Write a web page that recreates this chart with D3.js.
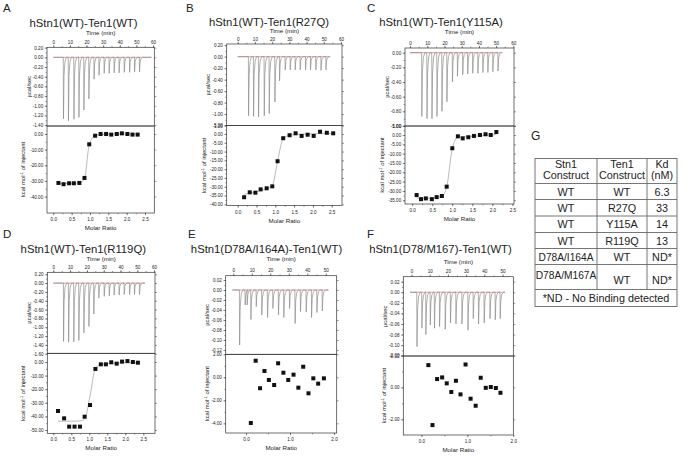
<!DOCTYPE html>
<html>
<head>
<meta charset="UTF-8">
<title>ITC panels</title>
<script src="https://d3js.org/d3.v7.min.js"></script>
<style>
  body { margin: 0; background: #fff; }
  svg text { font-family: "Liberation Sans", Arial, Helvetica, sans-serif; fill: #222; }
</style>
</head>
<body>
<svg width="686" height="456"></svg>
<script>
// ---------- data ----------
// injection times (min) and peak heights (ucal/sec) of the raw thermograms
const injTimeA = [6.0, 9.0, 12.3, 15.3, 18.3, 21.3, 24.4, 27.4, 30.5, 33.5, 36.5, 39.5, 42.6, 45.8, 48.8, 51.8];
const injPeakA = [-1.27, -1.31, -1.28, -1.24, -1.09, -0.86, -0.45, -0.37, -0.33, -0.33, -0.32, -0.32, -0.31, -0.31, -0.30, -0.30];
const injTimeB = [6.2, 9.1, 12.0, 15.3, 18.2, 21.5, 24.2, 27.5, 30.4, 33.3, 36.2, 39.3, 42.2, 45.3, 48.3, 51.2];
const injPeakB = [-1.03, -1.04, -1.05, -1.03, -0.99, -0.79, -0.42, -0.23, -0.23, -0.23, -0.23, -0.23, -0.23, -0.23, -0.24, -0.23];
const injTimeC = [6.7, 9.7, 12.6, 15.5, 18.4, 21.3, 24.5, 27.4, 30.5, 33.4, 36.3, 39.3, 42.2, 45.1, 48.0, 51.0];
const injPeakC = [-0.87, -0.90, -0.90, -0.87, -0.80, -0.67, -0.40, -0.32, -0.30, -0.29, -0.28, -0.28, -0.27, -0.27, -0.26, -0.25];
const injTimeD = [6.0, 9.0, 12.1, 15.1, 18.1, 21.1, 24.0, 27.0, 30.2, 33.2, 36.1, 39.1, 42.1, 45.3, 48.2, 51.2];
const injPeakD = [-1.32, -1.34, -1.33, -1.30, -1.13, -0.98, -0.70, -0.34, -0.30, -0.29, -0.27, -0.27, -0.26, -0.26, -0.26, -0.26];
const injTimeE = [3.3, 6.3, 7.4, 9.4, 12.3, 15.3, 18.4, 21.3, 24.3, 27.2, 30.3, 33.3, 36.2, 39.3, 42.2, 45.1, 48.0];
const injPeakE = [-0.11, -0.03, -0.03, -0.059, -0.033, -0.05, -0.055, -0.037, -0.05, -0.055, -0.037, -0.067, -0.043, -0.044, -0.055, -0.045, -0.042];
const injTimeF = [2.9, 5.6, 7.8, 10.2, 12.5, 15.3, 18.4, 21.3, 24.3, 27.6, 30.9, 33.8, 36.7, 39.8, 43.0, 45.9, 48.6];
const injPeakF = [-0.103, -0.068, -0.08, -0.062, -0.068, -0.065, -0.07, -0.058, -0.06, -0.06, -0.072, -0.05, -0.06, -0.058, -0.05, -0.052, -0.05];

// integrated heats: molar ratio vs kcal/mol of injectant, plus fitted curve
const ratioA = [0.14, 0.28, 0.43, 0.56, 0.71, 0.85, 0.98, 1.14, 1.29, 1.44, 1.58, 1.73, 1.87, 2.02, 2.16, 2.30];
const heatA  = [-31.3, -32.1, -31.5, -31.5, -31.3, -28.1, -6.6, -1.1, 0, 0, -0.4, 0, 0.4, 0, -0.4, -0.4];
const fitA   = [-31.6, -31.6, -31.6, -31.5, -31.2, -28.5, -6.8, -1.0, -0.3, -0.2, -0.1, 0, 0, 0, 0, 0];
const ratioB = [0.17, 0.32, 0.47, 0.61, 0.77, 0.92, 1.06, 1.21, 1.38, 1.54, 1.70, 1.86, 2.02, 2.19, 2.37, 2.54];
const heatB  = [-36.0, -33.2, -33.4, -31.5, -30.9, -29.8, -15.5, -2.4, -0.7, 0.4, -1.1, -0.4, -1.1, 1.3, 0.7, 0.4];
const fitB   = [-34.4, -33.7, -33.0, -32.2, -31.2, -29.5, -15.5, -2.6, -0.7, -0.3, -0.1, 0, 0.1, 0.2, 0.3, 0.3];
const ratioC = [0.11, 0.22, 0.34, 0.49, 0.61, 0.74, 0.86, 1.00, 1.14, 1.26, 1.40, 1.54, 1.69, 1.83, 1.96, 2.10];
const heatC  = [-32.2, -34.4, -34.0, -34.4, -33.3, -32.7, -27.7, -7.1, -0.7, -1.8, -1.2, -0.5, 0, 0.4, 0, 1.6];
const fitC   = [-33.8, -33.9, -33.9, -33.8, -33.6, -32.8, -27.9, -7.2, -1.2, -1.0, -0.8, -0.6, -0.4, -0.2, 0, 0.2];
const ratioD = [0.13, 0.30, 0.44, 0.59, 0.74, 0.87, 1.02, 1.17, 1.32, 1.46, 1.61, 1.76, 1.91, 2.06, 2.21, 2.35];
const heatD  = [-36.0, -41.4, -47.5, -47.5, -47.5, -40.2, -31.6, -5.1, -1.7, -1.7, -0.2, -1.2, 0.3, 0.7, 0, -0.5];
const fitD   = [-43.5, -43.5, -43.5, -43.5, -43.3, -42.0, -25.0, -4.5, -2.0, -1.3, -1.0, -0.8, -0.6, -0.5, -0.5, -0.5];
const ratioE = [0.11, 0.22, 0.32, 0.42, 0.52, 0.64, 0.73, 0.85, 0.96, 1.08, 1.19, 1.30, 1.42, 1.53, 1.64, 1.77];
const heatE  = [-3.97, 1.44, -0.95, 0.55, -0.23, -0.67, 1.22, 0.40, -0.23, 0.23, -0.90, 0.92, -1.39, -0.09, -0.55, -0.09];
const ratioF = [0.15, 0.24, 0.34, 0.45, 0.55, 0.65, 0.75, 0.85, 0.96, 1.07, 1.18, 1.29, 1.40, 1.51, 1.62, 1.72];
const heatF  = [1.39, -2.36, 0.52, 0.62, 0.25, -0.29, 0.41, -0.44, 1.43, -0.71, -1.15, 0.60, -0.03, 0.02, -0.04, -0.34];

// tick labels
const timeTicks6 = [0, 10, 20, 30, 40, 50, 60];
const timeTicks5 = [0, 10, 20, 30, 40, 50];
const ratioTicksHalf = [0, 0.5, 1.0, 1.5, 2.0, 2.5];
const ratioTicksOne = [0, 1.0, 2.0];

// table G
const tableHeader = [["Stn1", "Construct"], ["Ten1", "Construct"], ["Kd", "(nM)"]];
const stn1Construct = ["WT", "WT", "WT", "WT", "D78A/I164A", "D78A/M167A"];
const ten1Construct = ["WT", "R27Q", "Y115A", "R119Q", "WT", "WT"];
const kdValues = ["6.3", "33", "14", "13", "ND*", "ND*"];
const footnote = "*ND - No Binding detected";

// ---------- layout ----------
// box: [left, right, top, middle, bottom]; yt: offsets of the two y titles; tl: gap of "Time (min)" above box
const panels = [
  { letter: "A", title: "hStn1(WT)-Ten1(WT)", tRange: [0, 59], it: injTimeA, ip: injPeakA, r: ratioA, h: heatA, f: fitA,
    box: [47, 154.3, 47.3, 126, 213], tDom: [-3.79, 60.77], mDom: [-0.172, 2.754], uDom: [0.207, -1.419], lDom: [5.1, -50.5],
    uTicks: [0.2, -1.4, 0.2], lTicks: [0, -40, 10], tTicks: timeTicks6, mTicks: ratioTicksHalf, letterXY: [3, 12], titleXY: [83.5, 26.5], yt: [16.5, 22], tl: 12.3 },
  { letter: "B", title: "hStn1(WT)-Ten1(R27Q)", tRange: [0, 53.7], it: injTimeB, ip: injPeakB, r: ratioB, h: heatB, f: fitB,
    box: [226.7, 342, 44, 125.5, 205.5], tDom: [-6.4, 60.6], mDom: [-0.293, 2.774], uDom: [0.221, -1.199], lDom: [4.84, -40.7],
    uTicks: [0.2, -1.2, 0.2], lTicks: [5, -40, 5], tTicks: timeTicks6, mTicks: ratioTicksHalf, letterXY: [186, 12], titleXY: [269, 25.5], yt: [16.5, 20.5], tl: 10.8 },
  { letter: "C", title: "hStn1(WT)-Ten1(Y115A)", tRange: [0, 53.6], it: injTimeC, ip: injPeakC, r: ratioC, h: heatC, f: fitC,
    box: [405, 514, 48, 126, 204], tDom: [-2.97, 60.4], mDom: [-0.18, 2.54], uDom: [0.064, -1.0], lDom: [4.83, -37.0],
    uTicks: [0, -1.0, 0.2], lTicks: [5, -35, 5], tTicks: timeTicks6, mTicks: ratioTicksHalf, letterXY: [367, 12], titleXY: [441, 25.5], yt: [16.5, 21], tl: 14.3 },
  { letter: "D", title: "hStn1(WT)-Ten1(R119Q)", tRange: [0, 54.6], it: injTimeD, ip: injPeakD, r: ratioD, h: heatD, f: fitD,
    box: [47.3, 155, 272.3, 353.3, 433.3], tDom: [-3.57, 60.54], mDom: [-0.167, 2.825], uDom: [0.245, -1.59], lDom: [6.4, -52.4],
    uTicks: [0.2, -1.6, 0.2], lTicks: [0, -50, 10], tTicks: timeTicks6, mTicks: ratioTicksHalf, letterXY: [3, 238], titleXY: [83.3, 253], yt: [16.5, 22], tl: 11.3 },
  { letter: "E", title: "hStn1(D78A/I164A)-Ten1(WT)", tRange: [-0.5, 51.4], it: injTimeE, ip: injPeakE, r: ratioE, h: heatE, f: null,
    box: [225.7, 336.7, 275.7, 354.3, 433], tDom: [-4.1, 55.9], mDom: [-0.461, 2.061], uDom: [0.0286, -0.1286], lDom: [2.0, -4.84],
    uTicks: [0.02, -0.12, 0.02], lTicks: [2, -4, 2], tTicks: timeTicks5, mTicks: ratioTicksOne, letterXY: [188, 238], titleXY: [266.5, 253], yt: [16.5, 17], tl: 14.5 },
  { letter: "F", title: "hStn1(D78/M167)-Ten1(WT)", tRange: [-0.8, 51.4], it: injTimeF, ip: injPeakF, r: ratioF, h: heatF, f: null,
    box: [403.3, 513.3, 276.7, 356, 435], tDom: [-4.5, 55.9], mDom: [-0.396, 2.0], uDom: [0.0294, -0.1206], lDom: [1.96, -2.98],
    uTicks: [0.02, -0.12, 0.02], lTicks: [2, -2, 2], tTicks: timeTicks5, mTicks: ratioTicksOne, letterXY: [367, 238], titleXY: [440.5, 253], yt: [16.5, 17], tl: 12.3 }
];

const svg = d3.select("svg");

function steps(a, b, s) {
  const n = Math.round(Math.abs(b - a) / s);
  const dir = b < a ? -1 : 1;
  return d3.range(n + 1).map(i => +(a + dir * i * s).toFixed(4));
}
const fmt2 = d => (Math.abs(d) < 1e-9 ? 0 : d).toFixed(2);

function drawPanel(p) {
  const [x0, x1, yT, yM, yB] = p.box;
  const g = svg.append("g");

  const t = d3.scaleLinear().domain(p.tDom).range([x0, x1]);
  const m = d3.scaleLinear().domain(p.mDom).range([x0, x1]);
  const yu = d3.scaleLinear().domain(p.uDom).range([yT, yM]);
  const yl = d3.scaleLinear().domain(p.lDom).range([yM, yB]);

  // letter and title
  g.append("text").attr("x", p.letterXY[0]).attr("y", p.letterXY[1])
    .attr("font-size", "11.5px").text(p.letter);
  g.append("text").attr("x", p.titleXY[0]).attr("y", p.titleXY[1])
    .attr("text-anchor", "middle").attr("font-size", "11.3px").text(p.title);

  function styleAxis(sel) {
    sel.select(".domain").remove();
    sel.selectAll("line").attr("stroke", "#333").attr("stroke-width", 0.5);
    sel.selectAll("text").attr("font-size", "4.6px").attr("fill", "#333")
      .style("font-family", "'Liberation Sans', Arial, sans-serif");
  }

  const uMajor = steps(...p.uTicks);
  const uMinor = steps(p.uTicks[0], p.uTicks[1], p.uTicks[2] / 2);
  const lMajor = steps(...p.lTicks);
  const lMinor = steps(p.lTicks[0], p.lTicks[1], p.lTicks[2] / 2);
  const tMinor = steps(p.tTicks[0], p.tTicks[p.tTicks.length - 1], 5);
  const mStep = p.mTicks[1] - p.mTicks[0];
  const mMinor = steps(p.mTicks[0], p.mTicks[p.mTicks.length - 1], mStep / 2)
    .filter(v => v >= p.mDom[0] && v <= p.mDom[1]);

  // upper panel: left values, top time axis, right mirror ticks
  g.append("g").attr("transform", `translate(${x0},0)`)
    .call(d3.axisLeft(yu).tickValues(uMinor).tickSize(1.3).tickFormat("")).call(styleAxis);
  g.append("g").attr("transform", `translate(${x0},0)`)
    .call(d3.axisLeft(yu).tickValues(uMajor).tickSize(2.3).tickPadding(1.5).tickFormat(fmt2)).call(styleAxis);
  g.append("g").attr("transform", `translate(${x1},0)`)
    .call(d3.axisRight(yu).tickValues(uMajor).tickSize(2).tickFormat("")).call(styleAxis);
  g.append("g").attr("transform", `translate(0,${yT})`)
    .call(d3.axisTop(t).tickValues(tMinor).tickSize(1.3).tickFormat("")).call(styleAxis);
  g.append("g").attr("transform", `translate(0,${yT})`)
    .call(d3.axisTop(t).tickValues(p.tTicks).tickSize(2.3).tickPadding(1.2).tickFormat(d3.format("d"))).call(styleAxis);

  // lower panel: left values, bottom molar ratio, right mirror ticks
  g.append("g").attr("transform", `translate(${x0},0)`)
    .call(d3.axisLeft(yl).tickValues(lMinor).tickSize(1.3).tickFormat("")).call(styleAxis);
  g.append("g").attr("transform", `translate(${x0},0)`)
    .call(d3.axisLeft(yl).tickValues(lMajor).tickSize(2.3).tickPadding(1.5).tickFormat(fmt2)).call(styleAxis);
  g.append("g").attr("transform", `translate(${x1},0)`)
    .call(d3.axisRight(yl).tickValues(lMajor).tickSize(2).tickFormat("")).call(styleAxis);
  g.append("g").attr("transform", `translate(0,${yB})`)
    .call(d3.axisBottom(m).tickValues(mMinor).tickSize(1.3).tickFormat("")).call(styleAxis);
  g.append("g").attr("transform", `translate(0,${yB})`)
    .call(d3.axisBottom(m).tickValues(p.mTicks).tickSize(2.3).tickPadding(2.5).tickFormat(d3.format(".1f"))).call(styleAxis);

  // axis titles
  const cx = (x0 + x1) / 2;
  g.append("text").attr("x", cx).attr("y", yT - p.tl).attr("text-anchor", "middle")
    .attr("font-size", "6.2px").text("Time (min)");
  g.append("text").attr("x", cx).attr("y", yB + 17).attr("text-anchor", "middle")
    .attr("font-size", "6.2px").text("Molar Ratio");
  g.append("text").attr("transform", `translate(${x0 - p.yt[0]},${(yT + yM) / 2}) rotate(-90)`)
    .attr("text-anchor", "middle").attr("font-size", "5.9px").text("µcal/sec");
  const kt = g.append("text").attr("transform", `translate(${x0 - p.yt[1]},${(yM + yB) / 2}) rotate(-90)`)
    .attr("text-anchor", "middle").attr("font-size", "5.9px");
  kt.append("tspan").text("kcal mol");
  kt.append("tspan").attr("dy", "-2").attr("font-size", "4px").text("-1");
  kt.append("tspan").attr("dy", "2").text(" of injectant");

  // raw thermogram: baseline segments with a spike per injection
  const pts = [[p.tRange[0], 0]];
  p.it.forEach((ti, i) => {
    const hp = p.ip[i];
    pts.push([ti, 0], [ti + 0.12, hp], [ti + 0.45, hp * 0.3], [ti + 1.0, hp * 0.08], [ti + 1.8, 0]);
  });
  pts.push([p.tRange[1], 0]);
  g.append("line").attr("x1", t(p.tRange[0])).attr("x2", t(p.tRange[1]))
    .attr("y1", yu(0)).attr("y2", yu(0)).attr("stroke", "#d47a7a").attr("stroke-width", 0.7);
  g.append("path").datum(pts)
    .attr("d", d3.line().x(d => t(d[0])).y(d => yu(d[1])))
    .attr("fill", "none").attr("stroke", "#8c8c8c").attr("stroke-width", 0.7);

  // fitted curve
  if (p.f) {
    g.append("path").datum(p.r.map((v, i) => [v, p.f[i]]))
      .attr("d", d3.line().x(d => m(d[0])).y(d => yl(d[1])).curve(d3.curveMonotoneX))
      .attr("fill", "none").attr("stroke", "#8c8c8c").attr("stroke-width", 0.6);
  }
  // integrated heats
  g.append("g").selectAll("rect").data(p.r.map((v, i) => [v, p.h[i]])).join("rect")
    .attr("x", d => m(d[0]) - 2).attr("y", d => yl(d[1]) - 2)
    .attr("width", 4).attr("height", 4).attr("fill", "#111");

  // frames
  g.append("rect").attr("x", x0).attr("y", yT).attr("width", x1 - x0).attr("height", yM - yT)
    .attr("fill", "none").attr("stroke", "#333").attr("stroke-width", 0.7);
  g.append("rect").attr("x", x0).attr("y", yM).attr("width", x1 - x0).attr("height", yB - yM)
    .attr("fill", "none").attr("stroke", "#333").attr("stroke-width", 0.7);
}

panels.forEach(drawPanel);

// ---------- table G ----------
const colX = [535, 597, 647, 677];
const rowY = [158.5, 183.5, 199.5, 216, 232.5, 248.5, 264.5, 289.5, 306.5];
const tg = svg.append("g");
tg.append("text").attr("x", 531).attr("y", 140).attr("font-size", "12px").text("G");

tg.append("rect").attr("x", colX[0]).attr("y", rowY[0])
  .attr("width", colX[3] - colX[0]).attr("height", rowY[8] - rowY[0])
  .attr("fill", "none").attr("stroke", "#666").attr("stroke-width", 0.9);
rowY.slice(1, 8).forEach(y => {
  tg.append("line").attr("x1", colX[0]).attr("x2", colX[3]).attr("y1", y).attr("y2", y)
    .attr("stroke", "#666").attr("stroke-width", 0.9);
});
[colX[1], colX[2]].forEach(x => {
  tg.append("line").attr("x1", x).attr("x2", x).attr("y1", rowY[0]).attr("y2", rowY[7])
    .attr("stroke", "#666").attr("stroke-width", 0.9);
});

const colC = [0, 1, 2].map(i => (colX[i] + colX[i + 1]) / 2);
tableHeader.forEach((lines, i) => {
  tg.append("text").attr("x", colC[i]).attr("y", 167.5).attr("text-anchor", "middle")
    .attr("font-size", "10.8px").text(lines[0]);
  tg.append("text").attr("x", colC[i]).attr("y", 179).attr("text-anchor", "middle")
    .attr("font-size", "10.8px").text(lines[1]);
});
const cols = [stn1Construct, ten1Construct, kdValues];
stn1Construct.forEach((_, r) => {
  const ym = (rowY[r + 1] + rowY[r + 2]) / 2;
  cols.forEach((col, c) => {
    let y = ym + 4;
    if (r === 5) y = c === 0 ? ym + 2 : ym + 7;
    tg.append("text").attr("x", colC[c]).attr("y", y).attr("text-anchor", "middle")
      .attr("font-size", col[r].length > 6 ? "10.2px" : "10.8px").text(col[r]);
  });
});
tg.append("text").attr("x", (colX[0] + colX[3]) / 2).attr("y", 302).attr("text-anchor", "middle")
  .attr("font-size", "10.8px").text(footnote);
</script>
</body>
</html>
